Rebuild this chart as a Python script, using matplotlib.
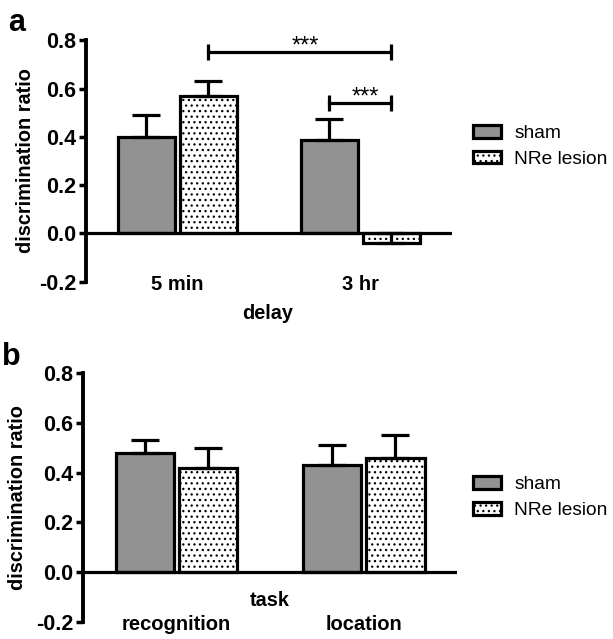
import matplotlib
matplotlib.use("Agg")
import matplotlib.pyplot as plt
from matplotlib.patches import Patch
import numpy as np

plt.rcParams['font.family'] = ['Liberation Sans', 'DejaVu Sans']
plt.rcParams['hatch.linewidth'] = 0.9

groups = ['sham', 'NRe lesion']

# panel a
delay_labels = ['5 min', '3 hr']
a_sham = [0.40, 0.385]
a_sham_err = [0.09, 0.09]
a_nre = [0.57, -0.04]
a_nre_err = [0.06, 0.04]
# significance: left end, right end as (group, series), bar height
sig_pairs = [((0, 1), (1, 1), 0.75), ((1, 0), (1, 1), 0.54)]
sig_text = ['***', '***']

# panel b
task_labels = ['recognition', 'location']
b_sham = [0.478, 0.43]
b_sham_err = [0.052, 0.08]
b_nre = [0.418, 0.458]
b_nre_err = [0.08, 0.095]

gray = '#929292'
lw = 2.3
width = 0.31
offset = 0.17
dots = '...'


def draw_panel(ax, labels, sham, sham_err, nre, nre_err):
    x = np.arange(len(labels))
    ax.bar(x - offset, sham, width, color=gray, edgecolor='black', linewidth=lw, zorder=2)
    ax.bar(x + offset, nre, width, color='white', edgecolor='black', linewidth=lw,
           hatch=dots, zorder=2)
    for xs, v, e in [(x - offset, sham, sham_err), (x + offset, nre, nre_err)]:
        ax.errorbar(xs, v, yerr=[np.zeros(len(v)), e], fmt='none', ecolor='black',
                    elinewidth=lw, capsize=10, capthick=lw, zorder=3)
    ax.axhline(0, color='black', lw=lw, zorder=4)
    ax.set_xlim(-0.5, 1.5)
    ax.set_ylim(-0.2, 0.8)
    ax.set_yticks([-0.2, 0.0, 0.2, 0.4, 0.6, 0.8])
    ax.set_yticklabels(['-0.2', '0.0', '0.2', '0.4', '0.6', '0.8'])
    ax.set_xticks(x)
    ax.set_xticklabels(labels)
    for s in ['top', 'right', 'bottom']:
        ax.spines[s].set_visible(False)
    ax.spines['left'].set_linewidth(2.8)
    ax.tick_params(axis='y', length=5, width=2.5, labelsize=15.5, pad=2)
    ax.tick_params(axis='x', length=0, labelsize=14.5, pad=-5)
    for t in ax.get_xticklabels() + ax.get_yticklabels():
        t.set_fontweight('bold')
    ax.set_ylabel('discrimination ratio', fontsize=14.3, fontweight='bold')
    return x


def add_legend(fig, ycenter):
    handles = [Patch(facecolor=gray, edgecolor='black', linewidth=lw),
               Patch(facecolor='white', edgecolor='black', linewidth=lw, hatch=dots)]
    fig.legend(handles, groups, loc='center left', bbox_to_anchor=(0.772, ycenter),
               frameon=False, fontsize=13.8, handlelength=1.45, handleheight=0.65,
               handletextpad=0.7, labelspacing=0.45, borderpad=0, borderaxespad=0)


fig = plt.figure(figsize=(6.13, 6.39), dpi=100)

ax1 = fig.add_axes([0.140, 0.559, 0.597, 0.378])
x = draw_panel(ax1, delay_labels, a_sham, a_sham_err, a_nre, a_nre_err)
ax1.set_xlabel('delay', fontsize=14.3, fontweight='bold')
ax1.xaxis.set_label_coords(0.497, -0.092)
ax1.yaxis.set_label_coords(-0.139, 0.5)
for (l, r, h), txt in zip(sig_pairs, sig_text):
    xl = x[l[0]] + (offset if l[1] else -offset)
    xr = x[r[0]] + (offset if r[1] else -offset)
    ax1.plot([xl, xr], [h, h], color='black', lw=lw, zorder=5)
    ax1.plot([xl, xr], [h, h], ls='none', marker='|', markersize=11,
             mew=lw, color='black', zorder=5)
    ax1.text((xl + xr) / 2 + 0.03, h, txt, ha='center', va='baseline',
             fontsize=17)

ax2 = fig.add_axes([0.135, 0.027, 0.611, 0.389])
draw_panel(ax2, task_labels, b_sham, b_sham_err, b_nre, b_nre_err)
ax2.set_xlabel('task', fontsize=14.3, fontweight='bold')
ax2.xaxis.set_label_coords(0.5, 0.125)
ax2.yaxis.set_label_coords(-0.15, 0.5)

add_legend(fig, 0.771)
add_legend(fig, 0.221)

fig.text(0.014, 0.988, 'a', fontsize=22, fontweight='bold', va='top')
fig.text(0.003, 0.465, 'b', fontsize=22, fontweight='bold', va='top')

fig.savefig('out.png', dpi=100)
plt.close(fig)
